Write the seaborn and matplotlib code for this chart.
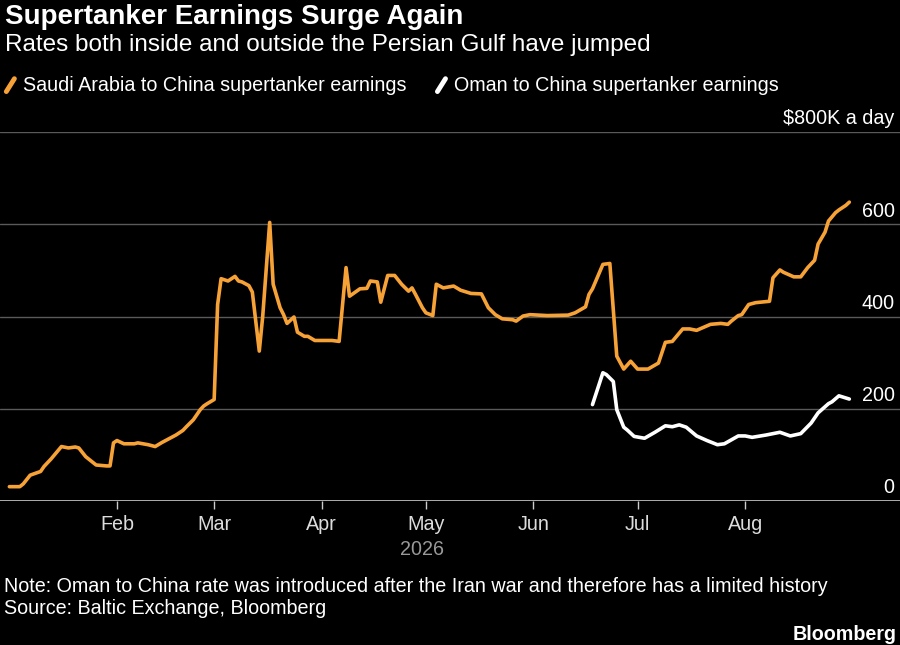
import pandas as pd
import matplotlib
matplotlib.use('Agg')
import matplotlib.pyplot as plt
from matplotlib.lines import Line2D
import seaborn as sns

# days since 2026-01-01 and values ($K a day)
saudi_days = [0, 3, 4, 6, 9, 10, 12, 13, 15, 17, 19, 20, 22, 25, 28, 29, 30, 31, 33, 36, 37, 40, 42, 44, 47, 48,
              50, 51, 53, 55, 56, 57, 59, 60, 61, 63, 65, 66, 67, 69, 70, 72, 73, 75, 76, 78, 79, 80, 82, 83, 85,
              86, 88, 93, 95, 97, 98, 101, 103, 104, 106, 107, 109, 111, 113, 115, 116, 117, 119, 120, 122, 123,
              125, 128, 130, 133, 136, 138, 140, 142, 145, 146, 148, 150, 155, 161, 163, 166, 167, 168, 171, 173,
              175, 177, 179, 181, 184, 187, 189, 191, 194, 196, 198, 202, 205, 207, 208, 210, 211, 213, 215, 219,
              220, 222, 223, 226, 228, 230, 232, 233, 235, 236, 238, 239, 241, 242]
saudi_vals = [31, 31, 37, 56, 64, 75, 91, 100, 118, 115, 117, 115, 96, 78, 76, 76, 126, 131, 124, 124, 126, 122,
              118, 127, 139, 143, 153, 161, 176, 198, 206, 211, 220, 426, 482, 477, 487, 477, 475, 467, 453, 325,
              401, 604, 470, 419, 404, 385, 399, 366, 357, 357, 348, 348, 346, 506, 444, 460, 461, 477, 475, 431,
              489, 489, 470, 455, 462, 448, 419, 408, 402, 470, 462, 466, 457, 450, 449, 419, 404, 395, 393, 390,
              401, 404, 402, 403, 408, 421, 448, 460, 513, 515, 314, 286, 303, 286, 286, 299, 344, 346, 373, 373,
              370, 383, 385, 383, 390, 402, 404, 426, 430, 433, 484, 501, 496, 486, 486, 506, 522, 557, 583, 607,
              625, 631, 641, 648]
oman_days = [168, 171, 172, 174, 175, 177, 178, 180, 183, 186, 189, 191, 193, 195, 198, 201, 204, 206, 210, 212,
             214, 218, 222, 225, 228, 231, 233, 236, 237, 239, 242]
oman_vals = [209, 278, 274, 259, 198, 160, 154, 140, 136, 149, 163, 161, 165, 160, 141, 131, 122, 124, 141, 141,
             138, 143, 149, 141, 146, 169, 191, 211, 215, 228, 221]

y_ticks = [0, 200, 400, 600, 800]
y_labels = ['0', '200', '400', '600', '$800K a day']
months = ['Feb', 'Mar', 'Apr', 'May', 'Jun', 'Jul', 'Aug']

start = pd.Timestamp('2026-01-01')
saudi = pd.DataFrame({'date': start + pd.to_timedelta(saudi_days, unit='D'), 'value': saudi_vals})
oman = pd.DataFrame({'date': start + pd.to_timedelta(oman_days, unit='D'), 'value': oman_vals})

orange = '#f7a237'
fs = 14.2
sns.set_style('dark')
plt.rcParams['font.family'] = ['Liberation Sans', 'DejaVu Sans']

fig = plt.figure(figsize=(9, 6.45), dpi=100, facecolor='black')
ax = fig.add_axes([0.0, 0.2233, 1.0, 0.572], facecolor='black')

sns.lineplot(data=saudi, x='date', y='value', ax=ax, color=orange, lw=2.6)
sns.lineplot(data=oman, x='date', y='value', ax=ax, color='white', lw=2.6)

ax.set_xlim(start - pd.Timedelta(days=2.7), start + pd.Timedelta(days=256.6))
ax.set_ylim(0, 800)
for s in ax.spines.values():
    s.set_visible(False)
for t in y_ticks[1:]:
    ax.axhline(t, color='#5a5a5a', lw=1, zorder=0)
ax.axhline(0, color='#cccccc', lw=1.2, zorder=1)
ax.set_yticks([])
for t, lab in zip(y_ticks, y_labels):
    ax.text(0.994, t + 8, lab, transform=ax.get_yaxis_transform(), ha='right', va='bottom',
            color='white', fontsize=fs)

ax.set_xticks([pd.Timestamp(f'2026-{m:02d}-01') for m in range(2, 9)])
ax.set_xticklabels(months)
ax.tick_params(axis='x', colors='#cccccc', labelcolor='#dddddd', labelsize=fs, length=6, width=1, pad=4,
               bottom=True, direction='out')
ax.set_xlabel('')
ax.set_ylabel('')
ax.text(pd.Timestamp('2026-04-30'), -0.105, '2026', transform=ax.get_xaxis_transform(), ha='center',
        va='top', color='#999999', fontsize=fs)

fig.text(0.006, 0.973, 'Supertanker Earnings Surge Again', color='white', fontsize=20, weight='bold', va='center')
fig.text(0.006, 0.930, 'Rates both inside and outside the Persian Gulf have jumped', color='white', fontsize=17.5, va='center')
fig.add_artist(Line2D([0.007, 0.016], [0.858, 0.878], color=orange, lw=3.5))
fig.text(0.026, 0.868, 'Saudi Arabia to China supertanker earnings', color='white', fontsize=fs, va='center')
fig.add_artist(Line2D([0.486, 0.495], [0.858, 0.878], color='white', lw=3.5))
fig.text(0.505, 0.868, 'Oman to China supertanker earnings', color='white', fontsize=fs, va='center')

fig.text(0.004, 0.091, 'Note: Oman to China rate was introduced after the Iran war and therefore has a limited history',
         color='white', fontsize=fs, va='center')
fig.text(0.004, 0.056, 'Source: Baltic Exchange, Bloomberg', color='white', fontsize=fs, va='center')
fig.text(0.996, 0.017, 'Bloomberg', color='white', fontsize=fs, weight='bold', ha='right', va='center')

fig.savefig('out.png', dpi=100, facecolor='black')
